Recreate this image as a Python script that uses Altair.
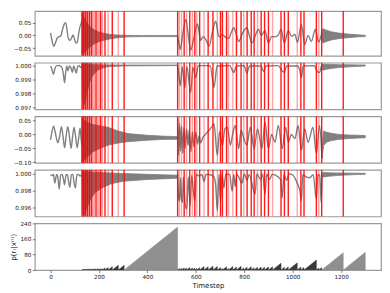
import altair as alt
import pandas as pd

X_DOMAIN = [-65, 1365]
W = 349
GRAY = "#808080"

# ---------------- Panel 1 ----------------
p1_a_t = [0, 5, 13, 20, 28, 35, 42, 50, 57, 62, 67, 72, 80, 87, 93, 99, 105, 110, 116, 122, 127, 130]
p1_a_v = [0.010, -0.015, -0.043, -0.030, -0.010, -0.005, -0.003, 0.025, 0.045, 0.050, 0.030, -0.005,
          -0.020, -0.010, 0.002, -0.015, -0.030, -0.028, 0.005, 0.035, 0.048, 0.060]
p1_b_t = [130, 135, 145, 160, 180, 200, 225, 250, 280, 320, 380, 450, 525]
p1_b_hi = [0.088, 0.078, 0.058, 0.036, 0.022, 0.013, 0.007, 0.003, 0.001, 0.000, -0.001, -0.001, -0.001]
p1_b_lo = [-0.075, -0.072, -0.062, -0.048, -0.034, -0.025, -0.018, -0.013, -0.009, -0.006, -0.005, -0.005, -0.005]
p1_c_t = [525, 530, 536, 547, 559, 569, 579, 593, 607, 614, 620, 630, 642, 655, 668, 682, 696, 709, 723,
          736, 746, 757, 767, 777, 794, 811, 821, 832, 846, 859, 870, 886, 900, 913, 927, 940, 952, 966,
          982, 996, 1009, 1020, 1036, 1050, 1064, 1077, 1094, 1107, 1118]
p1_c_v = [-0.003, -0.030, -0.055, 0.010, 0.062, 0.000, -0.058, -0.005, 0.045, 0.010, -0.020, -0.005,
          -0.018, -0.042, 0.010, 0.055, -0.006, 0.004, -0.008, -0.012, 0.010, 0.030, 0.005, -0.024,
          0.010, 0.030, 0.000, -0.030, 0.000, 0.024, 0.000, 0.018, -0.030, -0.005, -0.006, 0.000,
          0.024, -0.030, 0.018, -0.004, 0.004, -0.027, 0.043, -0.036, 0.000, -0.024, 0.024, -0.027, 0.000]
p1_d_t = [1118, 1125, 1140, 1160, 1190, 1230, 1270, 1300]
p1_d_hi = [0.010, 0.026, 0.020, 0.014, 0.009, 0.005, 0.002, 0.000]
p1_d_lo = [-0.010, -0.030, -0.024, -0.018, -0.013, -0.009, -0.006, -0.005]

# ---------------- Panel 2 ----------------
p2_a_t = [0, 5, 12, 18, 25, 35, 45, 52, 58, 62, 67, 72, 78, 84, 90, 96, 101, 106, 112, 118, 124, 130]
p2_a_v = [0.99995, 0.99975, 0.99935, 0.99975, 0.99998, 0.99998, 0.99990, 0.99950, 0.99875, 0.99940,
          0.99995, 0.99960, 0.99995, 0.99985, 0.99950, 0.99995, 0.99970, 0.99945, 0.99990, 0.99998,
          0.99985, 0.99998]
p2_b_t = [130, 133, 138, 145, 152, 160, 170, 185, 205, 235, 300, 525]
p2_b_hi = [1.00008, 1.00008, 1.00008, 1.00008, 1.00008, 1.00007, 1.00006, 1.00005, 1.00004, 1.00003,
           1.00002, 1.00002]
p2_b_lo = [0.99990, 0.99760, 0.99715, 0.99745, 0.99810, 0.99870, 0.99915, 0.99950, 0.99975, 0.99990,
           0.99996, 0.99998]
p2_c_t = [525, 530, 536, 544, 555, 563, 579, 588, 600, 610, 640, 660, 675, 688, 740, 757, 768, 800, 811,
          822, 870, 880, 890, 940, 957, 966, 975, 1020, 1030, 1036, 1044, 1090, 1100, 1111, 1118]
p2_c_v = [1.00000, 0.99930, 0.99853, 0.99990, 0.99841, 0.99990, 0.99805, 0.99985, 0.99912, 0.99998,
          0.99998, 0.99995, 0.99841, 0.99995, 0.99998, 0.99948, 0.99995, 0.99998, 0.99943, 0.99995,
          0.99995, 0.99955, 0.99995, 0.99998, 0.99960, 0.99950, 0.99995, 0.99995, 0.99960, 0.99912,
          0.99995, 0.99998, 0.99960, 0.99948, 0.99990]
p2_d_t = [1118, 1125, 1140, 1160, 1190, 1230, 1270, 1300]
p2_d_hi = [1.00000, 1.00009, 1.00008, 1.00007, 1.00005, 1.00004, 1.00003, 1.00003]
p2_d_lo = [0.99990, 0.99965, 0.99972, 0.99978, 0.99984, 0.99989, 0.99993, 0.99995]

# ---------------- Panel 3 ----------------
p3_a_t = [0, 6, 13, 20, 30, 38, 45, 52, 58, 64, 71, 78, 85, 91, 97, 104, 110, 116, 122, 127, 130]
p3_a_v = [-0.020, 0.010, 0.030, 0.005, -0.030, -0.005, 0.028, -0.010, -0.048, -0.010, 0.028, -0.005,
          -0.050, -0.010, 0.026, -0.010, -0.048, -0.015, 0.022, -0.020, -0.045]
p3_b_t = [130, 140, 155, 175, 200, 240, 280, 320, 400, 460, 525]
p3_b_hi = [0.058, 0.050, 0.042, 0.036, 0.032, 0.025, 0.012, 0.003, -0.003, -0.006, -0.008]
p3_b_lo = [-0.100, -0.092, -0.078, -0.063, -0.052, -0.038, -0.031, -0.026, -0.021, -0.018, -0.017]
p3_c_t = [525, 529, 533, 537, 541, 546, 551, 556, 562, 568, 573, 580, 586, 592, 600, 607, 614, 620, 630,
          641, 655, 668, 675, 689, 698, 710, 720, 730, 743, 752, 763, 777, 787, 797, 811, 825, 841, 855,
          873, 886, 900, 913, 927, 941, 957, 971, 982, 995, 1009, 1023, 1036, 1050, 1064, 1084, 1098,
          1111, 1121]
p3_c_v = [0.056, -0.075, 0.040, -0.060, 0.030, -0.069, 0.025, -0.050, 0.020, -0.040, 0.015, -0.063,
          0.010, -0.045, 0.008, -0.035, -0.005, -0.030, -0.010, 0.002, 0.015, 0.030, 0.038, -0.075,
          0.010, -0.040, 0.020, 0.026, -0.039, 0.000, 0.032, -0.051, 0.015, -0.010, -0.039, 0.026,
          -0.051, 0.020, -0.051, 0.044, -0.051, 0.000, -0.028, 0.032, -0.051, 0.026, -0.028, 0.000,
          -0.015, 0.032, -0.057, 0.020, -0.028, 0.026, -0.069, 0.032, -0.087]
p3_d_t = [1121, 1128, 1140, 1160, 1190, 1230, 1270, 1300]
p3_d_hi = [-0.040, 0.012, 0.008, 0.004, 0.000, -0.002, -0.003, -0.004]
p3_d_lo = [-0.087, -0.040, -0.028, -0.022, -0.018, -0.015, -0.013, -0.012]

# ---------------- Panel 4 ----------------
p4_a_t = [0, 6, 12, 18, 25, 30, 36, 42, 48, 53, 58, 64, 70, 75, 80, 86, 92, 98, 103, 109, 115, 122, 130]
p4_a_v = [0.99985, 0.99975, 0.99990, 0.99890, 0.99990, 0.99960, 0.99820, 0.99985, 0.99990, 0.99940,
          0.99870, 0.99985, 0.99985, 0.99900, 0.99840, 0.99985, 0.99990, 0.99880, 0.99835, 0.99985,
          0.99990, 0.99970, 0.99990]
p4_b_t = [130, 134, 140, 150, 165, 185, 210, 250, 300, 400, 525]
p4_b_hi = [1.00020, 1.00022, 1.00022, 1.00020, 1.00018, 1.00015, 1.00010, 1.00005, 1.00000, 0.99990, 0.99980]
p4_b_lo = [0.99960, 0.99540, 0.99520, 0.99600, 0.99700, 0.99780, 0.99830, 0.99880, 0.99910, 0.99930, 0.99945]
p4_c_t = [525, 530, 533, 537, 541, 545, 549, 556, 563, 569, 577, 583, 590, 596, 602, 615, 625, 634, 642,
          660, 675, 682, 689, 696, 702, 708, 716, 724, 740, 750, 757, 763, 770, 791, 800, 812, 820, 845,
          852, 868, 876, 886, 893, 905, 915, 930, 950, 957, 964, 975, 985, 1000, 1020, 1030, 1036, 1042,
          1055, 1070, 1085, 1098, 1104, 1112, 1118, 1122]
p4_c_v = [0.99990, 0.99700, 0.99682, 0.99950, 0.99700, 0.99663, 0.99960, 0.99640, 0.99590, 0.99960,
          0.99626, 0.99980, 0.99794, 0.99682, 0.99990, 0.99970, 0.99990, 0.99907, 0.99990, 0.99985,
          0.99960, 0.99870, 0.99570, 0.99990, 0.99682, 0.99990, 0.99832, 0.99995, 0.99985, 0.99794,
          0.99990, 0.99850, 0.99990, 0.99888, 0.99995, 0.99920, 0.99990, 0.99760, 0.99995, 0.99930,
          0.99995, 0.99760, 0.99995, 0.99930, 0.99990, 0.99980, 0.99930, 0.99720, 0.99990, 0.99920,
          0.99995, 0.99985, 0.99880, 0.99800, 0.99682, 0.99990, 0.99960, 0.99950, 0.99985, 0.99700,
          0.99985, 0.99980, 0.99660, 0.99990]
p4_d_t = [1122, 1130, 1150, 1180, 1220, 1260, 1300]
p4_d_hi = [1.00010, 1.00010, 1.00008, 1.00006, 1.00004, 1.00003, 1.00002]
p4_d_lo = [0.99960, 0.99960, 0.99968, 0.99975, 0.99982, 0.99987, 0.99990]

# ---------------- Change points ----------------
cp_t = [130, 133, 136, 140, 144, 148, 152, 157, 161, 166, 170, 176, 182, 188, 195, 201, 207, 214, 225,
        238, 255, 280, 304, 525, 532, 541, 552, 562, 575, 586, 596, 604, 616, 634, 651, 671, 689, 702,
        710, 727, 735, 753, 768, 787, 798, 812, 829, 841, 855, 870, 884, 900, 917, 952, 966, 982, 1019,
        1034, 1047, 1098, 1108, 1120, 1209]
cp_s = [1, 0.4, 1, 0.4, 1, 0.4, 1, 0.4, 1, 0.4, 1, 0.4, 0.4, 1, 0.4, 0.4, 1, 0.4, 1,
        0.4, 1, 0.4, 1, 1, 0.4, 0.4, 1, 0.4, 1, 0.4, 1, 0.4, 1, 0.4, 1, 1, 0.4, 1,
        1, 1, 0.4, 0.4, 1, 1, 0.4, 1, 1, 1, 0.4, 1, 1, 1, 0.4, 1, 1, 1, 0.4,
        1, 1, 1, 0.4, 1, 1]
T_END = 1300

panels = [
    dict(a=(p1_a_t, p1_a_v), b=(p1_b_t, p1_b_hi, p1_b_lo), c=(p1_c_t, p1_c_v), d=(p1_d_t, p1_d_hi, p1_d_lo),
         dom=[-0.080, 0.095], ticks=[-0.05, 0.0, 0.05], fmt=".2f", h=45),
    dict(a=(p2_a_t, p2_a_v), b=(p2_b_t, p2_b_hi, p2_b_lo), c=(p2_c_t, p2_c_v), d=(p2_d_t, p2_d_hi, p2_d_lo),
         dom=[0.99684, 1.00019], ticks=[0.997, 0.998, 0.999, 1.000], fmt=".3f", h=47),
    dict(a=(p3_a_t, p3_a_v), b=(p3_b_t, p3_b_hi, p3_b_lo), c=(p3_c_t, p3_c_v), d=(p3_d_t, p3_d_hi, p3_d_lo),
         dom=[-0.1025, 0.0654], ticks=[-0.10, -0.05, 0.0, 0.05], fmt=".2f", h=47),
    dict(a=(p4_a_t, p4_a_v), b=(p4_b_t, p4_b_hi, p4_b_lo), c=(p4_c_t, p4_c_v), d=(p4_d_t, p4_d_hi, p4_d_lo),
         dom=[0.99502, 1.00042], ticks=[0.996, 0.998, 1.000], fmt=".3f", h=47),
]

xs = alt.Scale(domain=X_DOMAIN, nice=False, zero=False)
cp_df = pd.DataFrame({"t": cp_t, "s": cp_s})

rows = []
for p in panels:
    line_df = pd.concat([
        pd.DataFrame({"t": p["a"][0], "v": p["a"][1], "seg": "a"}),
        pd.DataFrame({"t": p["c"][0], "v": p["c"][1], "seg": "c"}),
    ])
    band_df = pd.concat([
        pd.DataFrame({"t": p["b"][0], "hi": p["b"][1], "lo": p["b"][2], "seg": "b"}),
        pd.DataFrame({"t": p["d"][0], "hi": p["d"][1], "lo": p["d"][2], "seg": "d"}),
    ])
    ys = alt.Scale(domain=p["dom"], nice=False, zero=False)
    yax = alt.Axis(values=p["ticks"], format=p["fmt"], title=None, labelFlush=False, labelOverlap=False)
    band = alt.Chart(band_df).mark_area(color=GRAY, stroke=GRAY, strokeWidth=0.8, clip=True).encode(
        x=alt.X("t:Q", scale=xs, axis=None),
        y=alt.Y("hi:Q", scale=ys, axis=yax),
        y2="lo:Q",
        detail="seg:N",
    )
    line = alt.Chart(line_df).mark_line(color=GRAY, strokeWidth=1.4, interpolate="monotone", clip=True).encode(
        x=alt.X("t:Q", scale=xs, axis=None),
        y=alt.Y("v:Q", scale=ys, axis=yax),
        detail="seg:N",
    )
    rules = alt.Chart(cp_df).mark_rule(color="#ff0000", strokeWidth=1.4).encode(
        x=alt.X("t:Q", scale=xs, axis=None),
        opacity=alt.Opacity("s:Q", scale=alt.Scale(domain=[0, 1], range=[0, 0.9]), legend=None),
    )
    rows.append(alt.layer(band, line, rules).properties(width=W, height=p["h"]))

# run-length triangles
tri = []
bounds = cp_t + [T_END]
for i in range(len(cp_t)):
    c, n = bounds[i], bounds[i + 1]
    tri.append({"t": c, "r": 0, "seg": i, "peak": n - c})
    tri.append({"t": n, "r": n - c, "seg": i, "peak": n - c})
tri_df = pd.DataFrame(tri)

rl = alt.Chart(tri_df).mark_area(clip=True, strokeWidth=0.5).encode(
    x=alt.X("t:Q", scale=xs, axis=alt.Axis(values=[0, 200, 400, 600, 800, 1000, 1200], format="d",
                                            title="Timestep", titlePadding=2, labelFlush=False)),
    y=alt.Y("r:Q", scale=alt.Scale(domain=[0, 240], nice=False),
            axis=alt.Axis(values=[0, 80, 160, 240], format="d", title="p(rₜ|x⁽ᵗ⁾)", titlePadding=4,
                          labelFlush=False, labelOverlap=False)),
    y2=alt.datum(0),
    detail="seg:N",
    color=alt.condition("datum.peak > 60", alt.value("#8f8f8f"), alt.value("#3a3a3a")),
    stroke=alt.condition("datum.peak > 60", alt.value("#8f8f8f"), alt.value("#3a3a3a")),
).properties(width=W, height=47)

rows.append(rl)

chart = alt.vconcat(*rows, spacing=7, bounds="flush").properties(
    padding={"left": 0, "top": 0, "right": 0, "bottom": 0}
).configure_view(
    stroke="#9a9a9a", strokeWidth=1.2
).configure_axis(
    labelFont="DejaVu Sans", labelFontSize=5.7, labelColor="#222222", labelPadding=1.5,
    tickColor="#444444", tickSize=2.5, tickWidth=0.7, domain=False, grid=False,
    titleFont="DejaVu Sans", titleFontSize=7, titleFontWeight="normal", titleColor="#222222",
)

chart.save("out.html", embed_options={"renderer": "svg", "actions": False})
